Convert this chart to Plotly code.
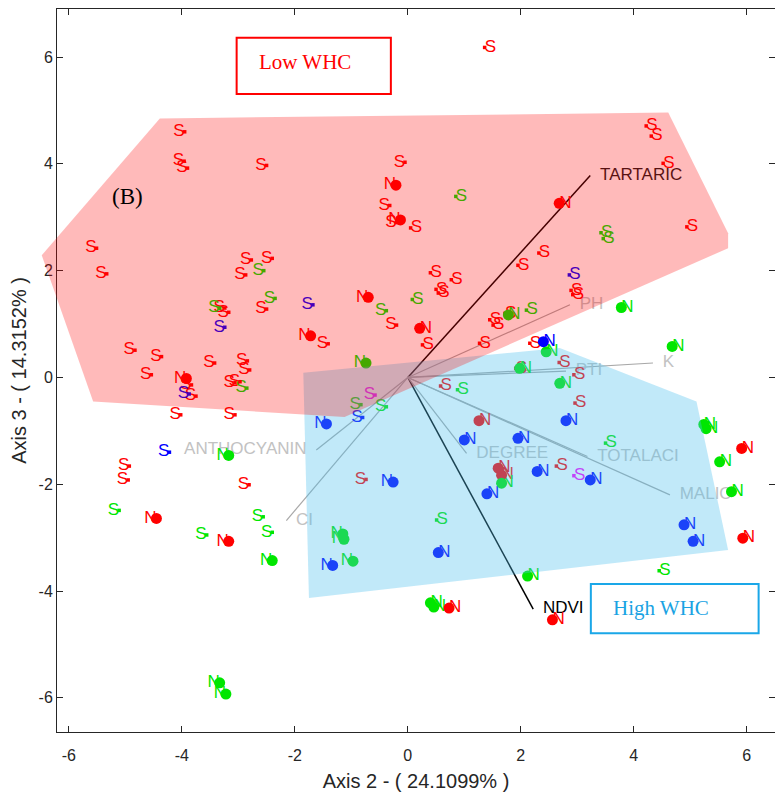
import plotly.graph_objects as go

# ---------------- data ----------------
# observation scores: (Axis 2, Axis 3) per colour group and label
red_S = [(-3.95, 4.60), (-3.96, 4.05), (-3.90, 3.92), (-2.50, 3.97), (-0.05, 4.03), (-0.32, 3.22),
         (-0.20, 2.90), (0.05, 2.80), (1.36, 6.18), (4.22, 4.71), (4.31, 4.52), (4.52, 4.01),
         (4.94, 2.82), (2.32, 2.33), (1.95, 2.10), (-5.51, 2.42), (-5.33, 1.94), (-2.77, 2.20),
         (-2.40, 2.23), (-2.87, 1.92), (-3.24, 1.30), (-3.17, 1.22), (-2.50, 1.28), (-0.20, 0.98),
         (-1.41, 0.63), (-4.83, 0.51), (-4.36, 0.39), (-4.54, 0.05), (-3.83, -0.14), (-3.75, -0.35),
         (-3.42, 0.27), (-2.84, 0.31), (-2.80, 0.14), (-3.06, -0.10), (-2.97, -0.08), (-4.02, -0.70),
         (-3.06, -0.70), (-4.93, -1.66), (-4.95, -1.92), (-2.81, -2.01), (0.40, 1.96), (0.77, 1.83),
         (0.50, 1.65), (0.54, 1.58), (0.26, 0.61), (1.27, 0.64), (1.45, 1.08), (1.51, 0.98),
         (1.72, 1.20), (2.89, 1.63), (2.92, 1.55), (2.16, 0.64), (2.68, 0.28), (1.91, 0.17),
         (2.94, 0.05), (0.58, -0.16), (2.96, -0.48), (2.63, -1.66), (-0.74, -1.91)]
red_N = [(-0.21, 3.60), (-0.13, 2.95), (2.68, 3.26), (-0.70, 1.50), (-1.72, 0.78), (0.21, 0.92),
         (-3.92, -0.02), (-4.45, -2.64), (-3.17, -3.07), (5.91, -1.33), (5.93, -3.01), (0.73, -4.32),
         (2.56, -4.54), (1.26, -0.81), (1.60, -1.70), (1.66, -1.83)]
green_S = [(0.85, 3.39), (3.42, 2.71), (3.46, 2.60), (-2.55, 2.00), (-2.35, 1.48), (-3.33, 1.30),
           (-2.85, -0.20), (-0.38, 1.25), (0.08, 1.46), (2.10, 1.26), (-0.83, -0.51), (-0.38, -0.55),
           (0.88, -0.23), (3.50, -1.23), (-5.11, -2.49), (-2.56, -2.61), (-3.56, -2.95), (-2.40, -2.90),
           (0.51, -2.67), (4.45, -3.62)]
green_N = [(-0.74, 0.27), (1.78, 1.17), (3.78, 1.31), (4.68, 0.58), (2.45, 0.48), (1.98, 0.17),
           (2.69, -0.11), (5.24, -0.88), (5.28, -0.96), (5.52, -1.58), (5.73, -2.14), (1.66, -1.98),
           (-3.17, -1.46), (-2.40, -3.43), (-1.15, -2.93), (-1.13, -3.03), (-0.97, -3.44),
           (-3.33, -5.72), (-3.22, -5.93), (2.12, -3.72), (0.40, -4.22), (0.46, -4.30)]
blue_S = [(-3.24, 0.94), (-1.68, 1.36), (-3.87, -0.31), (2.86, 1.92), (-4.22, -1.40), (-0.80, -0.75)]
blue_N = [(2.40, 0.67), (-1.44, -0.87), (-0.26, -1.96), (2.80, -0.81), (1.00, -1.17), (1.95, -1.14),
          (2.29, -1.76), (3.23, -1.92), (1.40, -2.18), (-1.33, -3.52), (0.54, -3.28), (4.89, -2.76),
          (5.05, -3.07)]
magenta_S = [(-0.58, -0.33), (2.94, -1.84)]

# variable loadings (biplot vectors)
vec_names = ["TARTARIC", "NDVI", "PH", "K", "PTI", "MALIC", "TOTALACI", "DEGREE", "ANTHOCYANIN", "CI"]
vec_x = [3.23, 2.22, 2.87, 4.34, 2.80, 4.64, 3.18, 1.04, -1.62, -2.15]
vec_y = [3.78, -4.34, 1.36, 0.27, 0.12, -2.20, -1.48, -1.42, -1.36, -2.68]

# group hulls
low_whc_x = [-6.48, -4.39, 4.61, 5.67, 5.67, -1.12, -5.57]
low_whc_y = [2.29, 4.85, 4.96, 2.70, 2.42, -0.74, -0.45]
high_whc_x = [-1.85, 2.69, 5.11, 5.67, -1.75]
high_whc_y = [0.09, 0.55, -0.45, -3.23, -4.13]

tick_vals = [-6, -4, -2, 0, 2, 4, 6]
tick_text = ["-6", "-4", "-2", "0", "2", "4", "6"]

x_title = "Axis 2 - ( 24.1099% )"
y_title = "Axis 3 - ( 14.3152% )"

# ---------------- styling ----------------
X_RANGE = [-6.21, 6.50]
Y_RANGE = [-6.64, 6.90]
SANS = "Liberation Sans, Arial, sans-serif"
SERIF = "Liberation Serif, Times New Roman, serif"
AX = "#262626"

fig = go.Figure()

# biplot vectors
for name, vx, vy in zip(vec_names, vec_x, vec_y):
    dark = name in ("TARTARIC", "NDVI")
    fig.add_trace(go.Scatter(x=[0, vx], y=[0, vy], mode="lines",
                             line=dict(color="#000000" if dark else "#a8a8a8", width=1.5 if dark else 1.2),
                             hoverinfo="skip", showlegend=False))

lab_colors = ["#1a1a1a" if n == "TARTARIC" else "#000000" if n == "NDVI" else "#c2c2c2" for n in vec_names]
lab_pos = ["middle left" if n == "ANTHOCYANIN" else "middle right" for n in vec_names]
fig.add_trace(go.Scatter(x=vec_x, y=vec_y, mode="markers+text", text=vec_names,
                         textposition=lab_pos,
                         textfont=dict(family=SANS, size=17, color=lab_colors),
                         marker=dict(size=14, opacity=0), hoverinfo="skip", showlegend=False))

groups = [
    (red_S, "S", "#ff0000"), (red_N, "N", "#ff0000"),
    (green_S, "S", "#00e600"), (green_N, "N", "#00e600"),
    (blue_S, "S", "#0000ff"), (blue_N, "N", "#0000ff"),
    (magenta_S, "S", "#ff00ff"),
]

# labels first, markers on top
for pts, lab, col in groups:
    xs = [p[0] for p in pts]
    ys = [p[1] for p in pts]
    fig.add_trace(go.Scatter(x=xs, y=ys, mode="text", text=[lab] * len(pts),
                             textposition=["middle left" if v < 0 else "middle right" for v in xs],
                             textfont=dict(family=SANS, size=17, color=col),
                             hoverinfo="skip", showlegend=False))
for pts, lab, col in groups:
    xs = [p[0] for p in pts]
    ys = [p[1] for p in pts]
    if lab == "S":
        mk = dict(symbol="square", size=3.5, color=col, line=dict(width=0))
    else:
        mk = dict(symbol="circle", size=11, color=col, line=dict(width=0))
    fig.add_trace(go.Scatter(x=xs, y=ys, mode="markers", marker=mk, showlegend=False))


def paper_path(xs, ys):
    px = [(v - X_RANGE[0]) / (X_RANGE[1] - X_RANGE[0]) for v in xs]
    py = [(v - Y_RANGE[0]) / (Y_RANGE[1] - Y_RANGE[0]) for v in ys]
    return "M " + " L ".join(f"{a:.5f},{b:.5f}" for a, b in zip(px, py)) + " Z"


shapes = [
    dict(type="path", xref="paper", yref="paper", path=paper_path(high_whc_x, high_whc_y),
         fillcolor="rgba(77,191,237,0.35)", line=dict(width=0), layer="above"),
    dict(type="path", xref="paper", yref="paper", path=paper_path(low_whc_x, low_whc_y),
         fillcolor="rgba(255,0,0,0.27)", line=dict(width=0), layer="above"),
    dict(type="rect", xref="x", yref="y", x0=-3.03, x1=-0.30, y0=5.31, y1=6.36,
         line=dict(color="#ff0000", width=2), fillcolor="rgba(0,0,0,0)", layer="above"),
    dict(type="rect", xref="x", yref="y", x0=3.24, x1=6.21, y0=-4.79, y1=-3.87,
         line=dict(color="#1aa7e8", width=2), fillcolor="rgba(0,0,0,0)", layer="above"),
]

annotations = [
    dict(x=-1.82, y=5.91, xref="x", yref="y", text="Low WHC", showarrow=False,
         font=dict(family=SERIF, size=21, color="#ff0000")),
    dict(x=4.48, y=-4.31, xref="x", yref="y", text="High WHC", showarrow=False,
         font=dict(family=SERIF, size=21, color="#1aa3e3")),
    dict(x=-4.97, y=3.38, xref="x", yref="y", text="(B)", showarrow=False,
         font=dict(family=SERIF, size=23, color="#000000")),
]

axis_common = dict(showgrid=False, zeroline=False, showline=True, linecolor=AX, linewidth=1,
                   mirror="ticks", ticks="inside", ticklen=6, tickcolor=AX, tickwidth=1,
                   tickvals=tick_vals, ticktext=tick_text,
                   tickfont=dict(family=SANS, size=16, color=AX))

fig.update_layout(
    width=775, height=793,
    margin=dict(l=57, r=0, t=9, b=61),
    paper_bgcolor="white", plot_bgcolor="white",
    xaxis=dict(range=X_RANGE, ticklabelstandoff=9,
               title=dict(text=x_title, font=dict(family=SANS, size=20, color=AX), standoff=10),
               **axis_common),
    yaxis=dict(range=Y_RANGE,
               title=dict(text=y_title, font=dict(family=SANS, size=20, color=AX), standoff=6),
               **axis_common),
    shapes=shapes,
    annotations=annotations,
)

fig.write_html("out.html")
